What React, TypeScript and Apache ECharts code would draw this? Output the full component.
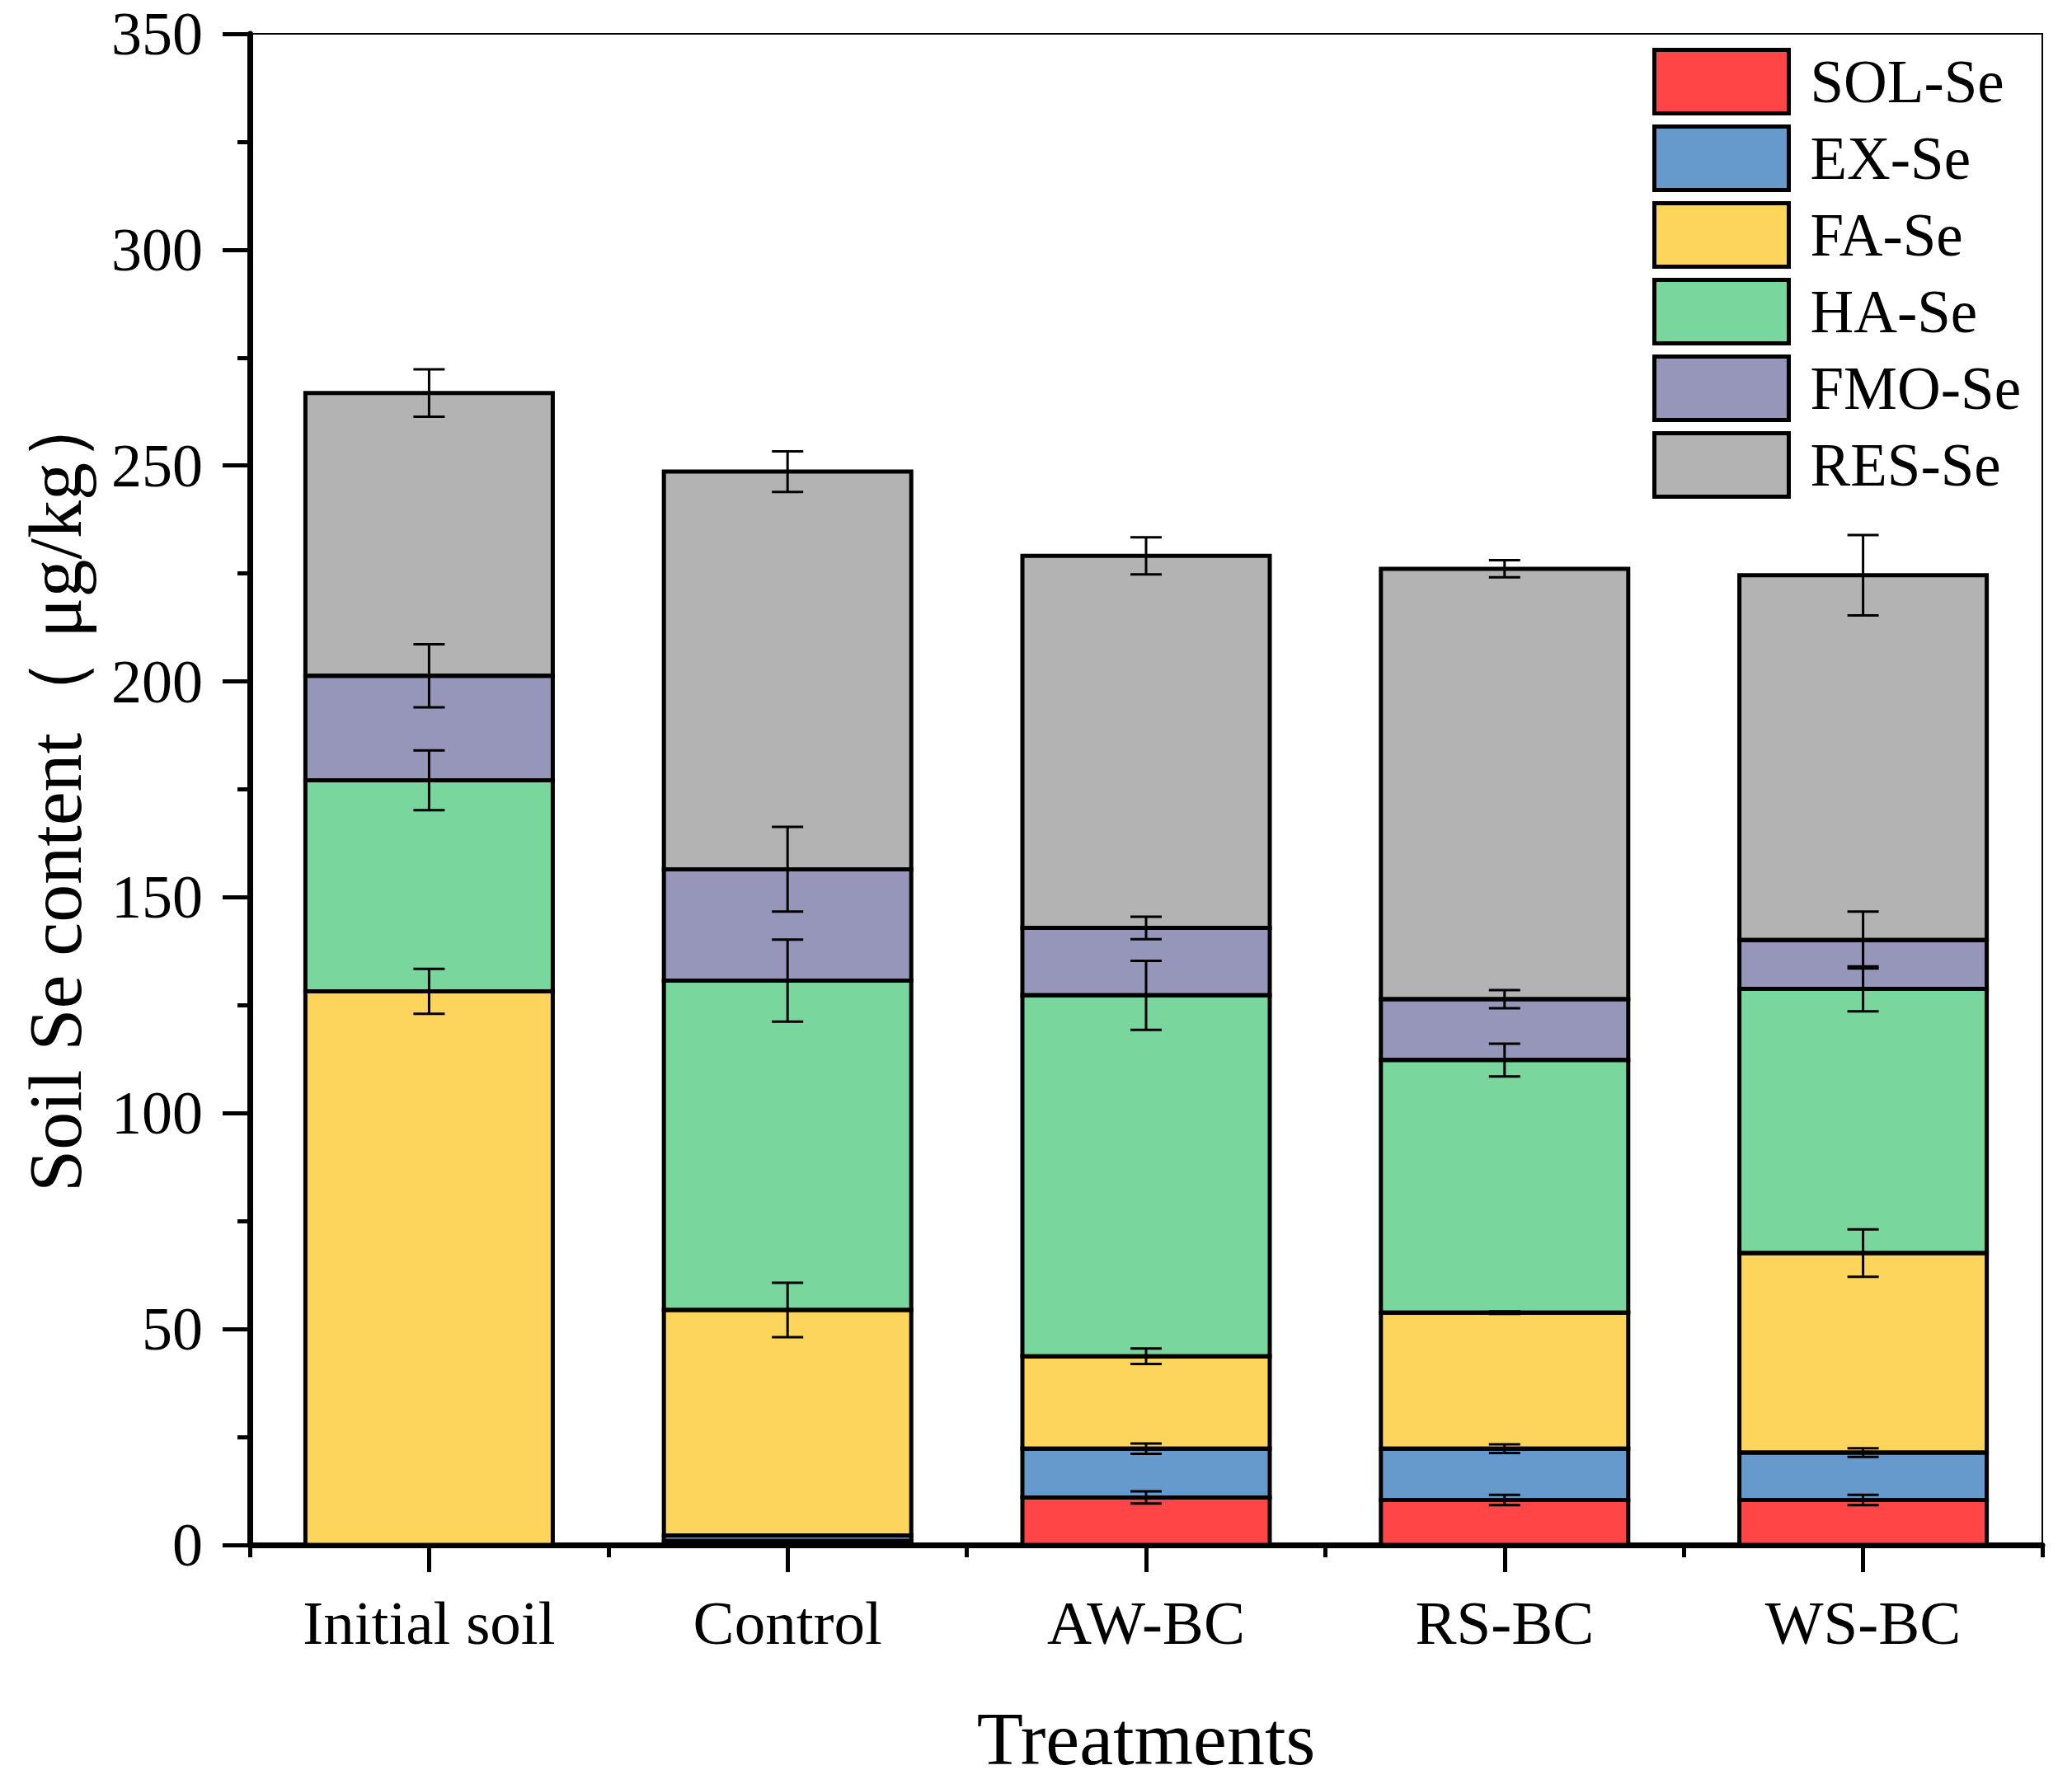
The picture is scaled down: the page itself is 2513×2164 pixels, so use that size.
import React, { useEffect, useRef } from "react";
import * as echarts from "echarts";

const categories = ["Initial soil", "Control", "AW-BC", "RS-BC", "WS-BC"];
const seriesNames = ["SOL-Se", "EX-Se", "FA-Se", "HA-Se", "FMO-Se", "RES-Se"];
const colors = ["#FF4545", "#6699CC", "#FDD55B", "#79D69C", "#9696BA", "#B3B3B3"];

const SOL = [0, 0.9, 11.0, 10.4, 10.4];
const EX = [0, 1.3, 11.3, 11.9, 11.0];
const FA = [128.2, 52.2, 21.4, 31.5, 46.2];
const HA = [48.9, 76.3, 83.6, 58.5, 61.2];
const FMO = [24.2, 25.8, 15.6, 14.1, 11.3];
const RES = [65.5, 92.1, 86.2, 99.7, 84.5];

const SOL_err = [0, 0, 1.4, 1.2, 1.2];
const EX_err = [0, 0, 1.2, 1.0, 1.0];
const FA_err = [5.2, 6.3, 1.8, 0.3, 5.5];
const HA_err = [6.9, 9.5, 8.0, 3.8, 5.2];
const FMO_err = [7.3, 9.8, 2.6, 2.1, 6.6];
const RES_err = [5.5, 4.7, 4.3, 2.0, 9.3];

const yTicks = { min: 0, max: 350, interval: 50 };

const FONT = '"Times New Roman", "Liberation Serif", serif';
const BAR_FRAC = 0.69;

export default function App() {
  const ref = useRef<HTMLDivElement>(null);
  useEffect(() => {
    document.body.style.margin = "0";
    const chart = echarts.init(ref.current!, undefined, { renderer: "svg" });
    const values = [SOL, EX, FA, HA, FMO, RES];
    const errs = [SOL_err, EX_err, FA_err, HA_err, FMO_err, RES_err];

    const errData: number[][] = [];
    const outlineData: number[][] = [];
    categories.forEach((_, ci) => {
      let cum = 0;
      values.forEach((arr, si) => {
        const base = cum;
        cum += arr[ci];
        if (arr[ci] > 0) outlineData.push([ci, base, cum]);
        if (errs[si][ci] > 0) errData.push([ci, cum, errs[si][ci]]);
      });
    });

    const barSeries = seriesNames.map((name, si) => ({
      name,
      type: "bar",
      stack: "total",
      barWidth: BAR_FRAC * 100 + "%",
      data: values[si],
      itemStyle: { color: colors[si], borderWidth: 0 },
      z: 2,
    }));

    const capHalf = 19;
    const option: any = {
      animation: false,
      backgroundColor: "#fff",
      grid: {
        left: 303,
        right: 36,
        top: 41,
        bottom: 290,
        show: true,
        borderColor: "#000",
        borderWidth: 2,
        backgroundColor: "transparent",
      },
      legend: {
        orient: "vertical",
        left: 2004,
        top: 58,
        padding: 0,
        itemWidth: 163,
        itemHeight: 77,
        itemGap: 11,
        icon: "rect",
        data: seriesNames,
        itemStyle: { borderColor: "#000", borderWidth: 5 },
        textStyle: {
          fontFamily: FONT,
          fontSize: 73,
          lineHeight: 77,
          color: "#000",
          padding: [0, 0, 0, 21],
        },
      },
      xAxis: [
        {
          type: "category",
          data: categories,
          name: "Treatments",
          nameLocation: "middle",
          nameGap: 189,
          nameTextStyle: { fontFamily: FONT, fontSize: 92, color: "#000" },
          axisLine: { show: true, lineStyle: { color: "#000", width: 7 } },
          axisTick: {
            show: true,
            alignWithLabel: true,
            interval: 0,
            length: 33,
            lineStyle: { color: "#000", width: 5 },
          },
          axisLabel: {
            fontFamily: FONT,
            fontSize: 75,
            color: "#000",
            margin: 57,
            interval: 0,
          },
          splitLine: { show: false },
        },
        {
          type: "category",
          data: categories,
          position: "bottom",
          axisLine: { show: false },
          axisTick: {
            show: true,
            alignWithLabel: false,
            interval: 0,
            length: 15,
            lineStyle: { color: "#000", width: 5 },
          },
          axisLabel: { show: false },
          splitLine: { show: false },
        },
      ],
      yAxis: {
        type: "value",
        min: yTicks.min,
        max: yTicks.max,
        interval: yTicks.interval,
        name: "Soil Se content（ μg/kg）",
        nameLocation: "middle",
        nameGap: 190,
        nameTextStyle: { fontFamily: FONT, fontSize: 92, color: "#000" },
        axisLine: { show: true, lineStyle: { color: "#000", width: 7 } },
        axisTick: { show: true, length: 33, lineStyle: { color: "#000", width: 5 } },
        minorTick: { show: true, splitNumber: 2, length: 15, lineStyle: { color: "#000", width: 5 } },
        axisLabel: { fontFamily: FONT, fontSize: 74, lineHeight: 64, color: "#000", margin: 57 },
        splitLine: { show: false },
      },
      series: [
        ...barSeries,
        {
          type: "custom",
          name: "outline",
          z: 5,
          data: outlineData,
          renderItem: (params: any, api: any) => {
            const ci = api.value(0);
            const p0 = api.coord([ci, api.value(1)]);
            const p1 = api.coord([ci, api.value(2)]);
            const w = api.size([1, 0])[0] * BAR_FRAC;
            return {
              type: "rect",
              shape: { x: p0[0] - w / 2, y: p1[1], width: w, height: p0[1] - p1[1] },
              style: { fill: "none", stroke: "#000", lineWidth: 5 },
            };
          },
        },
        {
          type: "custom",
          name: "err",
          z: 10,
          data: errData,
          renderItem: (params: any, api: any) => {
            const ci = api.value(0);
            const c = api.value(1);
            const e = api.value(2);
            const top = api.coord([ci, c + e]);
            const bot = api.coord([ci, c - e]);
            const x = top[0];
            const style = { stroke: "#000", lineWidth: 3 };
            return {
              type: "group",
              children: [
                { type: "line", shape: { x1: x, y1: top[1], x2: x, y2: bot[1] }, style },
                { type: "line", shape: { x1: x - capHalf, y1: top[1], x2: x + capHalf, y2: top[1] }, style },
                { type: "line", shape: { x1: x - capHalf, y1: bot[1], x2: x + capHalf, y2: bot[1] }, style },
              ],
            };
          },
        },
      ],
    };
    chart.setOption(option);
    return () => chart.dispose();
  }, []);
  return <div ref={ref} style={{ width: 2513, height: 2164 }} />;
}
